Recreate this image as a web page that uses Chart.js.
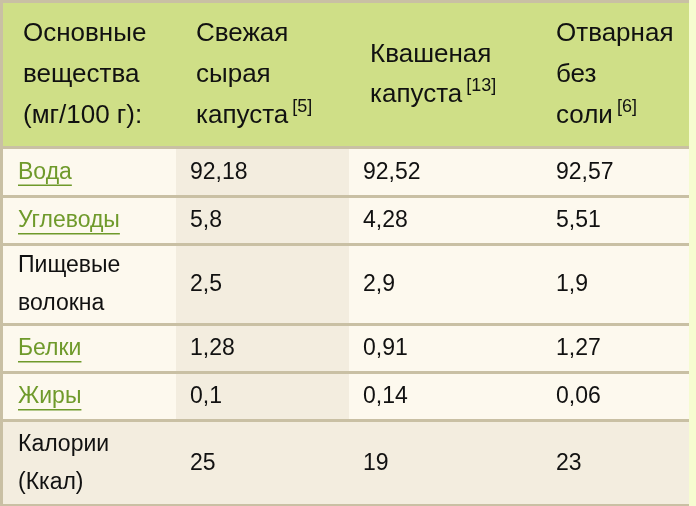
<!DOCTYPE html>
<html><head><meta charset="utf-8">
<script src="https://cdn.jsdelivr.net/npm/chart.js@4/dist/chart.umd.min.js"></script>
<style>
html,body{margin:0;padding:0;background:#f6fcd0;}
#wrap{width:696px;height:506px;position:relative;}
</style></head><body>
<div id="wrap"><canvas id="tbl"></canvas></div>
<script>
// table content
const headers = [
  ['Основные', 'вещества', '(мг/100 г):'],
  ['Свежая', 'сырая', 'капуста|5'],
  ['Квашеная', 'капуста|13'],
  ['Отварная', 'без', 'соли|6']
];
const rowLabels = [['Вода'], ['Углеводы'], ['Пищевые', 'волокна'], ['Белки'], ['Жиры'], ['Калории', '(Ккал)']];
const rowLinks = [true, true, false, true, true, false];
const fresh = ['92,18', '5,8', '2,5', '1,28', '0,1', '25'];
const sauer = ['92,52', '4,28', '2,9', '0,91', '0,14', '19'];
const boiled = ['92,57', '5,51', '1,9', '1,27', '0,06', '23'];

// layout in pixel units of the linear scales
const colEdges = [0, 176, 349, 542, 689];
const headX = [23, 196, 370, 556];
const rowEdges = [0, 148, 197, 245, 325, 373, 421, 506];

const tablePlugin = {
  id: 'table',
  afterDraw(chart) {
    const ctx = chart.ctx, X = chart.scales.x, Y = chart.scales.y;
    const px = v => X.getPixelForValue(v), py = v => Y.getPixelForValue(v);
    const cols = [fresh, sauer, boiled];
    ctx.save();
    ctx.fillStyle = '#cfdf87';
    ctx.fillRect(px(0), py(0), px(689) - px(0), py(148) - py(0));
    for (let r = 0; r < rowLabels.length; r++) {
      const y0 = py(rowEdges[r + 1]), y1 = py(rowEdges[r + 2]);
      for (let c = 0; c < 4; c++) {
        let bg = '#fdf9ee';
        if (c === 1 || r === rowLabels.length - 1) bg = '#f3eddf';
        ctx.fillStyle = bg;
        ctx.fillRect(px(colEdges[c]), y0, px(colEdges[c + 1]) - px(colEdges[c]), y1 - y0);
      }
    }
    ctx.fillStyle = '#c9c0a4';
    ctx.fillRect(px(0), py(0), px(689), 3);
    ctx.fillRect(px(0), py(0), 3, py(506));
    for (let i = 1; i < rowEdges.length; i++) {
      ctx.fillRect(px(0), py(rowEdges[i]) - 2, px(689), 3);
    }
    ctx.textBaseline = 'middle';
    const hfont = '26px "Liberation Sans", Arial, sans-serif';
    const font = '23px "Liberation Sans", Arial, sans-serif';
    const sup = '18px "Liberation Sans", Arial, sans-serif';
    headers.forEach((lines, c) => {
      const x = px(headX[c]);
      lines.forEach((ln, i) => {
        const y = py(lines.length === 2 ? 55 + i * 40 : 34 + i * 41);
        const parts = ln.split('|');
        ctx.font = hfont; ctx.fillStyle = '#111';
        ctx.fillText(parts[0], x, y);
        if (parts[1]) {
          const w = ctx.measureText(parts[0]).width;
          ctx.font = sup;
          ctx.fillText('[' + parts[1] + ']', x + w + 4, y - 9);
        }
      });
    });
    rowLabels.forEach((lines, r) => {
      const top = rowEdges[r + 1], bot = rowEdges[r + 2], mid = (top + bot) / 2;
      ctx.font = font;
      lines.forEach((ln, i) => {
        const y = py(mid + (i - (lines.length - 1) / 2) * 38);
        const x = px(0) + 18;
        if (rowLinks[r]) {
          ctx.fillStyle = '#6f9a2b';
          ctx.fillText(ln, x, y);
          const w = ctx.measureText(ln).width;
          ctx.fillRect(x, y + 12, w, 1.5);
        } else {
          ctx.fillStyle = '#111';
          ctx.fillText(ln, x, y);
        }
      });
      ctx.fillStyle = '#111';
      cols.forEach((vals, c) => {
        ctx.fillText(vals[r], px(colEdges[c + 1]) + 14, py(mid));
      });
    });
    ctx.restore();
  }
};

new Chart(document.getElementById('tbl'), {
  type: 'scatter',
  data: { datasets: [{ data: [] }] },
  options: {
    responsive: true,
    maintainAspectRatio: false,
    animation: false,
    layout: { padding: 0 },
    scales: {
      x: { type: 'linear', min: 0, max: 696, display: false },
      y: { type: 'linear', min: 0, max: 506, reverse: true, display: false }
    },
    plugins: { legend: { display: false }, tooltip: { enabled: false } }
  },
  plugins: [tablePlugin]
});
</script>
</body></html>
